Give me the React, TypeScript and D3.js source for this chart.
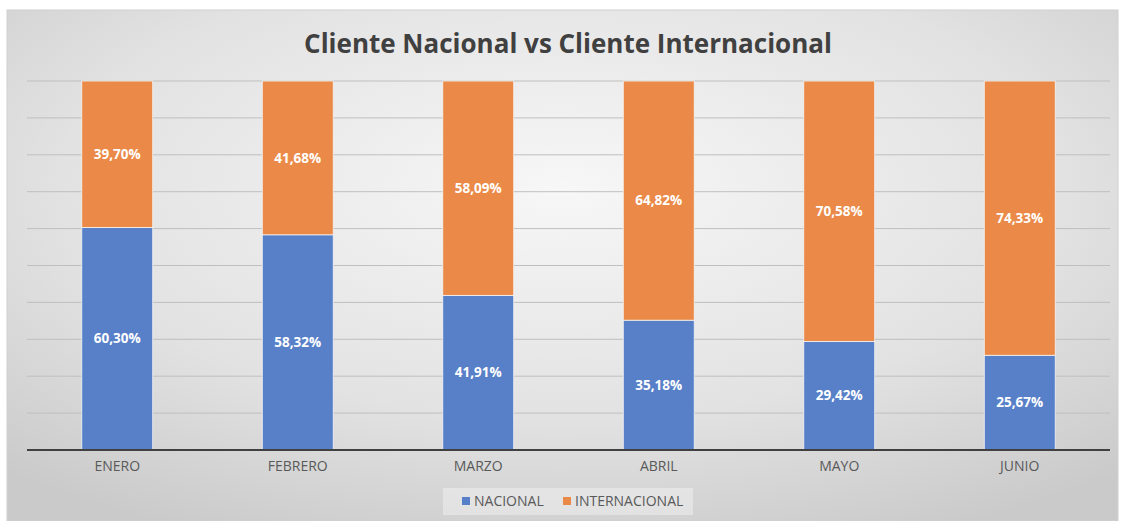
import React from 'react';
import * as d3 from 'd3';

const months = ['ENERO', 'FEBRERO', 'MARZO', 'ABRIL', 'MAYO', 'JUNIO'];
const nacional = [60.30, 58.32, 41.91, 35.18, 29.42, 25.67];
const internacional = [39.70, 41.68, 58.09, 64.82, 70.58, 74.33];
const seriesNames = ['NACIONAL', 'INTERNACIONAL'];
const colors = ['#5880c8', '#eb8a48'];
const yTicks = d3.range(0, 101, 10);

const W = 1125, H = 521;
const margin = { top: 81, right: 15, bottom: 71, left: 27 };

export default function App() {
    const container = React.useRef<SVGGElement>(null);

    React.useEffect(() => {
        if (!container.current) return;
        const g = d3.select(container.current);
        g.selectAll('*').remove();

        const innerW = W - margin.left - margin.right;
        const innerH = H - margin.top - margin.bottom;

        const x = d3.scaleBand().domain(months).range([0, innerW]).paddingInner(0.607).paddingOuter(0.3035);
        const y = d3.scaleLinear().domain([0, 100]).range([innerH, 0]);

        const rows = months.map((m, i) => ({ month: m, NACIONAL: nacional[i], INTERNACIONAL: internacional[i] }));
        const stacked = d3.stack<any>().keys(seriesNames)(rows);

        // gridlines
        g.selectAll('.grid')
            .data(yTicks.slice(1))
            .join('line')
            .attr('x1', 0).attr('x2', innerW)
            .attr('y1', d => y(d)).attr('y2', d => y(d))
            .attr('stroke', '#bfbfbf').attr('stroke-width', 1);

        const layer = g.selectAll('.layer')
            .data(stacked)
            .join('g')
            .attr('fill', (d, i) => colors[i]);

        layer.selectAll('rect')
            .data(d => d)
            .join('rect')
            .attr('x', (d: any) => x(d.data.month)!)
            .attr('width', x.bandwidth())
            .attr('y', d => y(d[1]))
            .attr('height', d => y(d[0]) - y(d[1]))
            .attr('stroke', '#f4f4f4').attr('stroke-width', 0.8);

        layer.selectAll('text')
            .data((d, i) => d.map(v => ({ v, key: seriesNames[i] })))
            .join('text')
            .attr('x', (d: any) => x(d.v.data.month)! + x.bandwidth() / 2)
            .attr('y', d => (y(d.v[0]) + y(d.v[1])) / 2)
            .attr('dy', '0.35em')
            .attr('text-anchor', 'middle')
            .attr('fill', '#ffffff')
            .attr('font-weight', 'bold')
            .attr('font-size', 13.5)
            .text((d: any) => d.v.data[d.key].toFixed(2).replace('.', ',') + '%');

        // baseline
        g.append('line')
            .attr('x1', 0).attr('x2', innerW)
            .attr('y1', innerH).attr('y2', innerH)
            .attr('stroke', '#404040').attr('stroke-width', 2);

        const xAxis = d3.axisBottom(x).tickSize(0).tickPadding(11);
        const ax = g.append('g').attr('transform', `translate(0,${innerH})`).call(xAxis);
        ax.select('.domain').remove();
        ax.selectAll('text').attr('fill', '#595959').attr('font-size', 14).attr('font-family', 'Open Sans, sans-serif');
    }, []);

    const legendX = 443;
    return (
        <div>
            <svg width={W} height={H} style={{ position: 'absolute', left: 0, top: 0, fontFamily: 'Open Sans, sans-serif' }}>
                <defs>
                    <radialGradient id="bg" cx="50%" cy="35%" r="75%">
                        <stop offset="0%" stopColor="#f7f7f7" />
                        <stop offset="60%" stopColor="#e2e2e2" />
                        <stop offset="100%" stopColor="#cacaca" />
                    </radialGradient>
                </defs>
                <rect x={0} y={0} width={W} height={H} fill="#ffffff" />
                <rect x={7} y={10} width={1111} height={511} fill="url(#bg)" stroke="#d0d0d0" />
                <text x={568} y={53} textAnchor="middle" fontSize={26} fontWeight="bold" fill="#404040">
                    Cliente Nacional vs Cliente Internacional
                </text>
                <g ref={container} transform={`translate(${margin.left},${margin.top})`} />
                <rect x={legendX} y={488} width={250} height={27} fill="#ececec" opacity={0.6} />
                {seriesNames.map((s, i) => (
                    <g key={s} transform={`translate(${i === 0 ? 462 : 563},501)`}>
                        <rect x={0} y={-4} width={8} height={8} fill={colors[i]} />
                        <text x={12} dy="0.35em" fontSize={14} fill="#595959">{s}</text>
                    </g>
                ))}
            </svg>
        </div>
    );
}
